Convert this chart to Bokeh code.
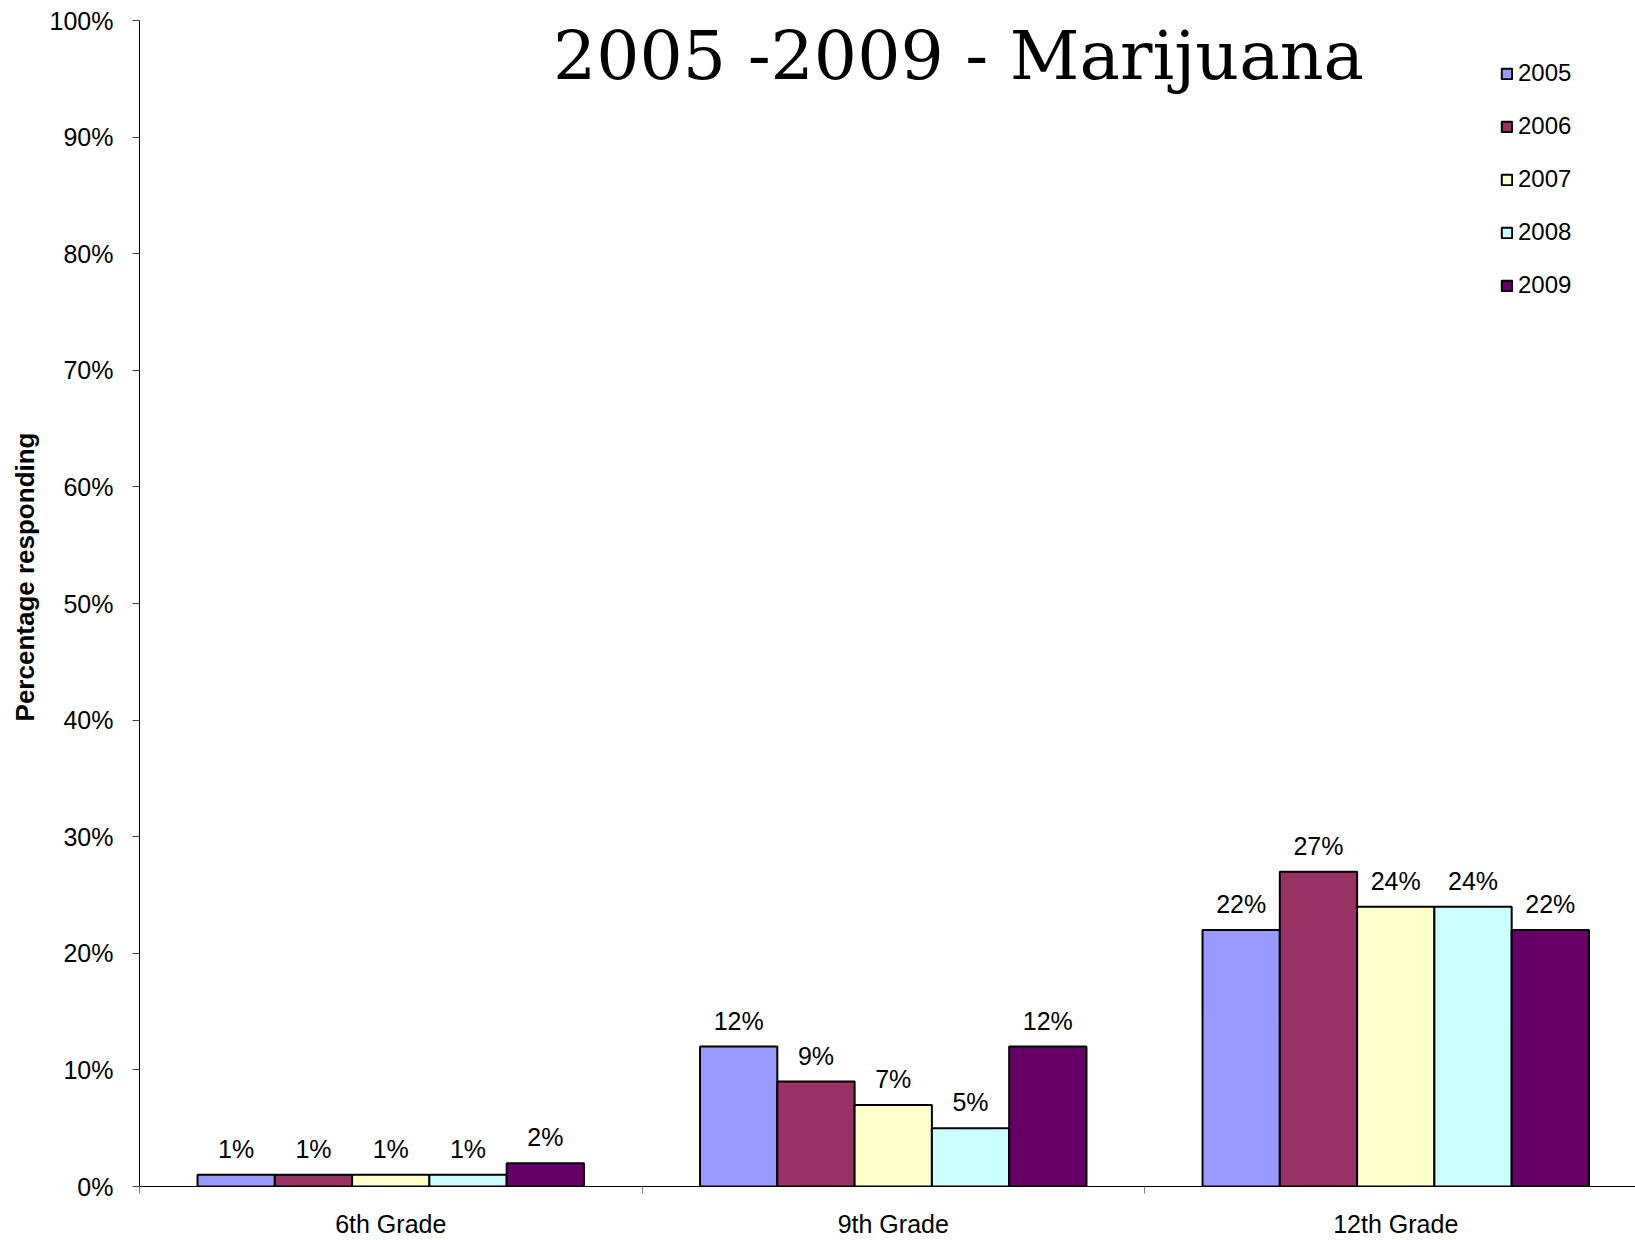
from bokeh.plotting import figure
from bokeh.models import (Range1d, FixedTicker, PrintfTickFormatter, ColumnDataSource,
                          LabelSet, Legend, LegendItem, LinearAxis, Title)
from bokeh.core.properties import value
from bokeh.embed import file_html
from bokeh.resources import INLINE

# ---------------- data ----------------
grades = ["6th Grade", "9th Grade", "12th Grade"]
years = ["2005", "2006", "2007", "2008", "2009"]
v2005 = [1, 12, 22]
v2006 = [1, 9, 27]
v2007 = [1, 7, 24]
v2008 = [1, 5, 24]
v2009 = [2, 12, 22]
series = [v2005, v2006, v2007, v2008, v2009]
colors = ["#9999FF", "#993366", "#FFFFCC", "#CCFFFF", "#660066"]
y_ticks = [0, 10, 20, 30, 40, 50, 60, 70, 80, 90, 100]
title_text = "2005 -2009 - Marijuana"
y_label_text = "Percentage responding"

# ---------------- layout ----------------
W, H = 1635, 1240
LEFT, TOP, BOTTOM = 139, 20, 53
CAT_PX = 502.5
x_end = (W - LEFT) / CAT_PX
bar_w = 0.1538
SANS = "Liberation Sans"
PX_PER_UNIT = (H - TOP - BOTTOM) / 100

p = figure(width=W, height=H, output_backend="svg", toolbar_location=None,
           x_range=Range1d(0, x_end), y_range=Range1d(0, 100),
           x_axis_type=None, y_axis_type=None,
           min_border_left=LEFT, min_border_right=0,
           min_border_top=TOP, min_border_bottom=BOTTOM)
p.outline_line_color = None
p.background_fill_color = "white"
p.border_fill_color = "white"

centers = [i + 0.5 for i in range(len(grades))]

# x axis: labels at category centres, tick marks at category boundaries
xaxis = LinearAxis(
    ticker=FixedTicker(ticks=centers, minor_ticks=[0, 1, 2, 3]),
    major_label_overrides={c: g for c, g in zip(centers, grades)},
    major_tick_out=0, major_tick_in=0,
    minor_tick_out=7, minor_tick_in=0,
    minor_tick_line_color="#808080",
    axis_line_color="black", axis_line_width=1,
    major_label_standoff=16,
    major_label_text_font=SANS, major_label_text_font_size="25px",
    major_label_text_color="black",
)
p.add_layout(xaxis, "below")

yaxis = LinearAxis(
    ticker=FixedTicker(ticks=y_ticks),
    formatter=PrintfTickFormatter(format="%d%%"),
    major_tick_out=7, major_tick_in=0,
    minor_tick_out=0, minor_tick_in=0,
    major_tick_line_color="#404040",
    axis_line_color="black", axis_line_width=1,
    major_label_standoff=19,
    major_label_text_font=SANS, major_label_text_font_size="25px",
    major_label_text_color="black",
)
p.add_layout(yaxis, "left")

# y-axis title, placed in the left panel, its end 412 px below the plot top
p.add_layout(Title(text=y_label_text, align="right", offset=412,
                   vertical_align="bottom", standoff=14,
                   text_font=SANS, text_font_style="bold",
                   text_font_size="26px", text_color="black"), "left")

# ---------------- bars ----------------
legend_items = []
n = len(years)
for j, (yr, vals, col) in enumerate(zip(years, series, colors)):
    xs = [c + (j - (n - 1) / 2) * bar_w for c in centers]
    src = ColumnDataSource(dict(x=xs, top=vals, lab=[f"{v}%" for v in vals]))
    r = p.vbar(x="x", top="top", bottom=0, width=bar_w, source=src,
               fill_color=col, line_color="black", line_width=2)
    legend_items.append(LegendItem(label=yr, renderers=[r]))
    p.add_layout(LabelSet(x="x", y="top", text="lab", source=src, y_offset=17,
                          text_align="center", text_baseline="alphabetic",
                          text_font=value(SANS), text_font_size="25px",
                          text_color="black"))

legend = Legend(items=legend_items, location=(1361, 887),
                orientation="vertical", padding=0, margin=0, spacing=25,
                label_height=28, glyph_height=13, glyph_width=13, label_standoff=5,
                label_text_font=SANS, label_text_font_size="24px",
                label_text_color="black",
                border_line_color=None, background_fill_alpha=0)
p.add_layout(legend)

# ---------------- title (inside the plot area) ----------------
title_src = ColumnDataSource(dict(x=[(958 - LEFT) / CAT_PX],
                                  y=[100 - (55 - TOP) / PX_PER_UNIT],
                                  t=[title_text]))
p.text(x="x", y="y", text="t", source=title_src,
       text_font=value("DejaVu Serif"), text_font_size="68px",
       text_align="center", text_baseline="middle", text_color="black")

open("out.html", "w").write(file_html(p, INLINE))
